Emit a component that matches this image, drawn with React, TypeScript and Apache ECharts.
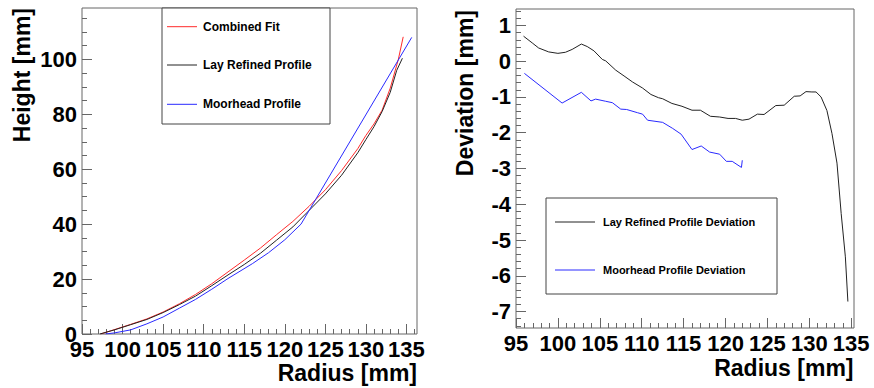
import React, { useEffect, useRef } from "react";
import * as echarts from "echarts";

// Profile height vs radius (left panel)
const combinedFitRadius = [97.3, 99, 101, 103, 105, 107, 109, 111, 113, 115, 117, 119, 121, 123, 125, 127, 129, 130, 131, 132, 133, 134, 134.6];
const combinedFitHeight = [0, 1.6, 3.5, 5.5, 8.0, 11.0, 14.4, 18.3, 22.6, 26.9, 31.3, 36.2, 41.0, 46.5, 52.5, 59.5, 67.5, 72.3, 76.5, 81.5, 89.5, 100, 108.2];

const layProfileRadius = [97.2, 99, 101, 103, 105, 107, 109, 111, 113, 115, 117, 119, 121, 123, 125, 127, 129, 130, 131, 132, 133, 133.8, 134.5];
const layProfileHeight = [0, 1.5, 3.4, 5.3, 7.8, 10.7, 13.8, 17.6, 21.5, 25.3, 29.4, 34.2, 39.0, 45.0, 51.0, 57.8, 66.0, 70.8, 75.5, 81.0, 88.0, 96.0, 100.4];

const moorheadRadius = [97.9, 99, 101, 103, 105, 107, 109, 111, 113, 116, 118, 120, 122, 135.65];
const moorheadHeight = [0, 0.4, 1.5, 3.7, 6.2, 9.4, 12.6, 16.3, 20.2, 25.6, 29.6, 34.3, 40.0, 108];

// Deviation vs radius (right panel)
const layDevRadius = [95.9, 97, 97.7, 98.9, 100, 100.9, 101.7, 102.8, 103.5, 104.3, 105.3, 105.7, 106.9, 108.0, 108.9, 110.1, 111.1, 112.0, 112.5, 113.6, 114.8, 116.0, 117.0, 118.2, 119.3, 120.3, 121.2, 122.0, 122.8, 123.8, 124.6, 126.0, 127.0, 128.2, 128.9, 129.6, 130.3, 130.8, 131.4, 132.1, 132.7, 133.3, 133.8, 134.3, 134.6];
const layDevValue = [0.70, 0.50, 0.37, 0.26, 0.22, 0.25, 0.33, 0.48, 0.41, 0.29, 0.05, 0.01, -0.25, -0.43, -0.58, -0.75, -0.93, -1.02, -1.05, -1.18, -1.26, -1.37, -1.37, -1.54, -1.56, -1.60, -1.60, -1.65, -1.62, -1.48, -1.49, -1.24, -1.23, -0.98, -0.97, -0.85, -0.86, -0.86, -1.00, -1.38, -2.02, -2.85, -4.26, -5.47, -6.72];

const moorDevRadius = [96.0, 100.5, 102.8, 103.95, 104.5, 105.7, 106.5, 107.5, 108.2, 109.5, 110.1, 110.7, 112.5, 113.7, 114.7, 116.0, 117.1, 118.1, 119.3, 120.1, 120.8, 121.9, 122.0];
const moorDevValue = [-0.34, -1.17, -0.87, -1.11, -1.06, -1.12, -1.16, -1.34, -1.35, -1.44, -1.48, -1.65, -1.71, -1.88, -2.04, -2.47, -2.37, -2.54, -2.60, -2.80, -2.80, -2.97, -2.77];

// Tick labels
const radiusTicks = [95, 100, 105, 110, 115, 120, 125, 130, 135];
const heightTicks = [0, 20, 40, 60, 80, 100];
const deviationTicks = [-7, -6, -5, -4, -3, -2, -1, 0, 1];

const range = (from: number, to: number, step: number) => {
  const out: number[] = [];
  for (let v = from; v <= to + 1e-9; v += step) out.push(Math.round(v * 100) / 100);
  return out;
};

const zip = (xs: number[], ys: number[]) => xs.map((x, i) => [x, ys[i]]);

const FONT = "'Liberation Sans', Arial, Helvetica, sans-serif";
const FRAME = "#666";
const RED = "#ff2a2a";
const BLACK = "#222";
const BLUE = "#2a2aff";

const labelStyle = {
  fontFamily: FONT,
  fontWeight: "bold" as const,
  fontSize: 22,
  color: "#000",
};

function majorAxis(min: number, max: number, ticks: number[], gridIndex: number, position: string, margin: number) {
  return {
    type: "value",
    gridIndex,
    position,
    min,
    max,
    splitLine: { show: false },
    axisLine: { show: false, onZero: false },
    axisTick: { show: true, inside: true, length: 10, customValues: ticks, lineStyle: { color: FRAME, width: 1 } },
    axisLabel: { show: true, customValues: ticks, margin, showMinLabel: true, showMaxLabel: true, ...labelStyle },
  };
}

function minorAxis(min: number, max: number, ticks: number[], gridIndex: number, position: string) {
  return {
    type: "value",
    gridIndex,
    position,
    min,
    max,
    splitLine: { show: false },
    axisLine: { show: false, onZero: false },
    axisTick: { show: true, inside: true, length: 5, customValues: ticks, lineStyle: { color: FRAME, width: 1 } },
    axisLabel: { show: false },
  };
}

function lineSeries(name: string, data: number[][], color: string, xAxisIndex: number, yAxisIndex: number) {
  return {
    name,
    type: "line",
    xAxisIndex,
    yAxisIndex,
    data,
    showSymbol: false,
    symbol: "none",
    smooth: false,
    lineStyle: { color, width: 1 },
    itemStyle: { color },
    z: 3,
  };
}

function legendEntry(x1: number, x2: number, y: number, color: string, label: string, textX: number, size: number) {
  return [
    { type: "line", shape: { x1, y1: y, x2, y2: y }, style: { stroke: color, lineWidth: 1 }, z: 11 },
    {
      type: "text",
      x: textX,
      y,
      style: { text: label, fill: "#000", font: `bold ${size}px ${FONT}`, align: "left", verticalAlign: "middle" },
      z: 11,
    },
  ];
}

function axisTitle(text: string, x: number, y: number, rotated: boolean) {
  return {
    type: "text",
    x,
    y,
    rotation: rotated ? Math.PI / 2 : 0,
    style: { text, fill: "#000", font: `bold 23px ${FONT}`, align: "right", verticalAlign: "middle" },
    z: 10,
  };
}

export default function App() {
  const ref = useRef<HTMLDivElement>(null);

  useEffect(() => {
    if (!ref.current) return;
    const chart = echarts.init(ref.current, undefined, { renderer: "svg" });

    const option = {
      animation: false,
      backgroundColor: "#fff",
      grid: [
        { left: 82, top: 8, width: 335, height: 326, show: true, borderColor: FRAME, borderWidth: 1, backgroundColor: "transparent" },
        { left: 516, top: 9, width: 338, height: 319, show: true, borderColor: FRAME, borderWidth: 1, backgroundColor: "transparent" },
      ],
      xAxis: [
        majorAxis(95, 136.3, radiusTicks, 0, "bottom", 4),
        minorAxis(95, 136.3, range(95, 136, 1), 0, "bottom"),
        majorAxis(95, 135.33, radiusTicks, 1, "bottom", 4),
        minorAxis(95, 135.33, range(95, 135, 1), 1, "bottom"),
      ],
      yAxis: [
        majorAxis(0, 118.7, heightTicks, 0, "left", 5),
        minorAxis(0, 118.7, range(0, 115, 5), 0, "left"),
        majorAxis(-7.46, 1.46, deviationTicks, 1, "left", 5),
        minorAxis(-7.46, 1.46, range(-7.4, 1.4, 0.2), 1, "left"),
      ],
      series: [
        lineSeries("Combined Fit", zip(combinedFitRadius, combinedFitHeight), RED, 0, 0),
        lineSeries("Lay Refined Profile", zip(layProfileRadius, layProfileHeight), BLACK, 0, 0),
        lineSeries("Moorhead Profile", zip(moorheadRadius, moorheadHeight), BLUE, 0, 0),
        lineSeries("Lay Refined Profile Deviation", zip(layDevRadius, layDevValue), BLACK, 2, 2),
        lineSeries("Moorhead Profile Deviation", zip(moorDevRadius, moorDevValue), BLUE, 2, 2),
      ],
      graphic: [
        // left legend
        { type: "rect", shape: { x: 162, y: 8, width: 168, height: 116 }, style: { fill: "#fff", stroke: "#444", lineWidth: 1 }, z: 10 },
        ...legendEntry(167, 197, 26.7, RED, "Combined Fit", 203, 12),
        ...legendEntry(167, 197, 65, BLACK, "Lay Refined Profile", 203, 12),
        ...legendEntry(167, 197, 104.3, BLUE, "Moorhead Profile", 203, 12),
        // right legend
        { type: "rect", shape: { x: 546, y: 198, width: 231, height: 96 }, style: { fill: "#fff", stroke: "#444", lineWidth: 1 }, z: 10 },
        ...legendEntry(555, 595, 222, BLACK, "Lay Refined Profile Deviation", 603, 11),
        ...legendEntry(555, 595, 270, BLUE, "Moorhead Profile Deviation", 603, 11),
        // axis titles
        axisTitle("Radius [mm]", 417, 372.5, false),
        axisTitle("Height [mm]", 21.7, 8, true),
        axisTitle("Radius [mm]", 853.5, 367.5, false),
        axisTitle("Deviation [mm]", 464.5, 10, true),
      ],
    };

    chart.setOption(option as any);
    return () => chart.dispose();
  }, []);

  return (
    <div
      ref={ref}
      style={{ position: "fixed", left: 0, top: 0, width: 874, height: 388, background: "#fff" }}
    />
  );
}
